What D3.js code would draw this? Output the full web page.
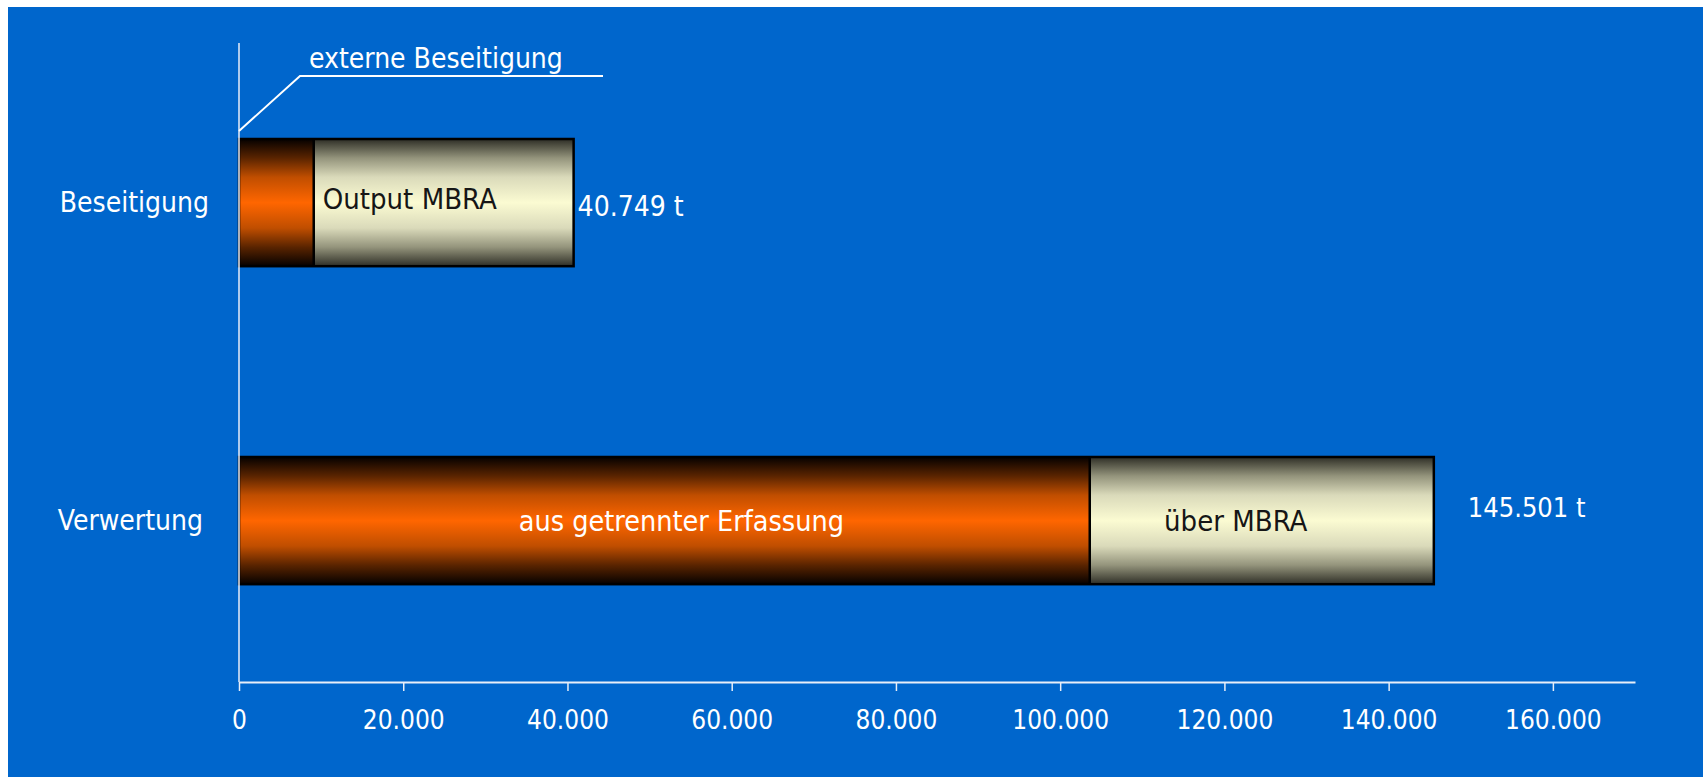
<!DOCTYPE html>
<html>
<head>
<meta charset="utf-8">
<script src="https://cdn.jsdelivr.net/npm/d3@7"></script>
<style>
  body { margin: 0; background: #fff; }
  text { font-family: "Liberation Sans Narrow", "DejaVu Sans Condensed", "Roboto", sans-serif; }
</style>
</head>
<body>
<div id="svg_chart"></div>
<script>
///////////// Data //////////////
var categories = ['Beseitigung', 'Verwertung'];
// first segment: externe Beseitigung / aus getrennter Erfassung
var first_values = [9100, 103600];
// second segment: Output MBRA / über MBRA
var second_values = [31649, 41901];
var totals = [40749, 145501];
var total_labels = ['40.749 t', '145.501 t'];
var seg_labels = [['Output MBRA', 'über MBRA'], ['', 'aus getrennter Erfassung']];
var tick_values = [0, 20000, 40000, 60000, 80000, 100000, 120000, 140000, 160000];
var annotation = 'externe Beseitigung';

///////////// Setup //////////////
const svg_width = 1703
const svg_height = 777
const blue = '#0066cc'
const axis_color = '#e8eef8'

var svg = d3.select('#svg_chart').append('svg')
  .attr('width', svg_width)
  .attr('height', svg_height);

svg.append('rect').attr('x', 0).attr('y', 0)
  .attr('width', svg_width).attr('height', svg_height).attr('fill', '#fff');
svg.append('rect').attr('x', 8).attr('y', 7)
  .attr('width', svg_width - 8).attr('height', svg_height - 7).attr('fill', blue);

var x_scale = d3.scaleLinear().domain([0, 170000]).range([239, 1635]);
var y_scale = d3.scaleBand().domain(categories).range([139, 584.2]).paddingInner(0.6).paddingOuter(0);

// gradients for the tube look
var defs = svg.append('defs');
function tube(id, stops) {
  var g = defs.append('linearGradient').attr('id', id)
    .attr('x1', 0).attr('y1', 0).attr('x2', 0).attr('y2', 1);
  stops.forEach(function(s) {
    g.append('stop').attr('offset', s[0] + '%').attr('stop-color', s[1]);
  });
}
tube('grad_orange', [[0, '#050100'], [15, '#5a2400'], [30, '#c04e00'], [50, '#ff6600'],
                     [70, '#c04e00'], [85, '#5a2400'], [100, '#050100']]);
tube('grad_cream', [[0, '#2e2e26'], [15, '#94947c'], [30, '#dadaba'], [50, '#fbfbd2'],
                    [70, '#dadaba'], [85, '#94947c'], [100, '#2e2e26']]);

///////////// Bars //////////////
var rows = categories.map(function(c, i) {
  return {cat: c, a: first_values[i], b: second_values[i], total: totals[i], label: total_labels[i]};
});

var bar_g = svg.append('g');
rows.forEach(function(d, i) {
  var y0 = y_scale(d.cat), h = y_scale.bandwidth();
  bar_g.append('rect')
    .attr('x', x_scale(0)).attr('y', y0)
    .attr('width', x_scale(d.a) - x_scale(0)).attr('height', h)
    .attr('fill', 'url(#grad_orange)');
  bar_g.append('rect')
    .attr('x', x_scale(d.a)).attr('y', y0)
    .attr('width', x_scale(d.a + d.b) - x_scale(d.a)).attr('height', h)
    .attr('fill', 'url(#grad_cream)');
  // outline + divider
  bar_g.append('rect')
    .attr('x', x_scale(0)).attr('y', y0)
    .attr('width', x_scale(d.a + d.b) - x_scale(0)).attr('height', h)
    .attr('fill', 'none').attr('stroke', '#000').attr('stroke-width', 2.5);
  bar_g.append('line')
    .attr('x1', x_scale(d.a)).attr('x2', x_scale(d.a))
    .attr('y1', y0).attr('y2', y0 + h)
    .attr('stroke', '#000').attr('stroke-width', 2.5);
});

// labels inside the bars
var b0 = y_scale('Beseitigung'), b1 = y_scale('Verwertung'), bw = y_scale.bandwidth();
svg.append('text').attr('x', x_scale(first_values[0]) + 9).attr('y', b0 + bw / 2 - 4)
  .attr('dy', '0.35em').attr('font-size', 29).attr('fill', '#161616').text(seg_labels[0][0]);
svg.append('text').attr('x', (x_scale(0) + x_scale(first_values[1])) / 2 + 17).attr('y', b1 + bw / 2)
  .attr('dy', '0.35em').attr('text-anchor', 'middle').attr('font-size', 28.5).attr('fill', '#fff').text(seg_labels[1][1]);
svg.append('text').attr('x', (x_scale(first_values[1]) + x_scale(totals[1])) / 2 - 26).attr('y', b1 + bw / 2)
  .attr('dy', '0.35em').attr('text-anchor', 'middle').attr('font-size', 29).attr('fill', '#161616').text(seg_labels[0][1]);

// totals
svg.append('text').attr('x', x_scale(totals[0]) + 4).attr('y', b0 + bw / 2 + 4)
  .attr('dy', '0.35em').attr('font-size', 28).attr('fill', '#fff').text(total_labels[0]);
svg.append('text').attr('x', x_scale(totals[1]) + 34).attr('y', b1 + bw / 2 - 13)
  .attr('dy', '0.35em').attr('font-size', 27).attr('fill', '#fff').text(total_labels[1]);

// category labels
svg.selectAll('.cat').data(categories).enter().append('text').attr('class', 'cat')
  .attr('x', function(d, i) { return i == 0 ? 209 : 203; })
  .attr('y', function(d) { return y_scale(d) + bw / 2; })
  .attr('dy', '0.35em').attr('text-anchor', 'end')
  .attr('font-size', 28).attr('fill', '#fff')
  .text(function(d) { return d; });

///////////// Axes //////////////
var de = d3.formatLocale({decimal: ',', thousands: '.', grouping: [3], currency: ['', ' €']});
var x_axis = d3.axisBottom(x_scale).tickValues(tick_values).tickFormat(de.format(',')).tickSizeInner(9).tickSizeOuter(0).tickPadding(20);
var x_axis_g = svg.append('g').attr('transform', 'translate(0,682)').call(x_axis);
x_axis_g.select('.domain').attr('stroke', axis_color).attr('stroke-width', 2);
x_axis_g.selectAll('.tick line').attr('stroke', axis_color).attr('stroke-width', 1.5);
x_axis_g.selectAll('.tick text').attr('fill', '#fff').attr('font-size', 26)
  .style('font-family', '"Liberation Sans Narrow", "DejaVu Sans Condensed", sans-serif');

svg.append('line').attr('x1', x_scale(0)).attr('x2', x_scale(0))
  .attr('y1', 43).attr('y2', 682)
  .attr('stroke', axis_color).attr('stroke-width', 1.5);

///////////// Annotation //////////////
svg.append('path')
  .attr('d', d3.line()([[x_scale(0), 131], [300, 76], [603, 76]]))
  .attr('fill', 'none').attr('stroke', '#fff').attr('stroke-width', 2);
svg.append('text').attr('x', 309).attr('y', 68)
  .attr('font-size', 28).attr('fill', '#fff').text(annotation);
</script>
</body>
</html>
